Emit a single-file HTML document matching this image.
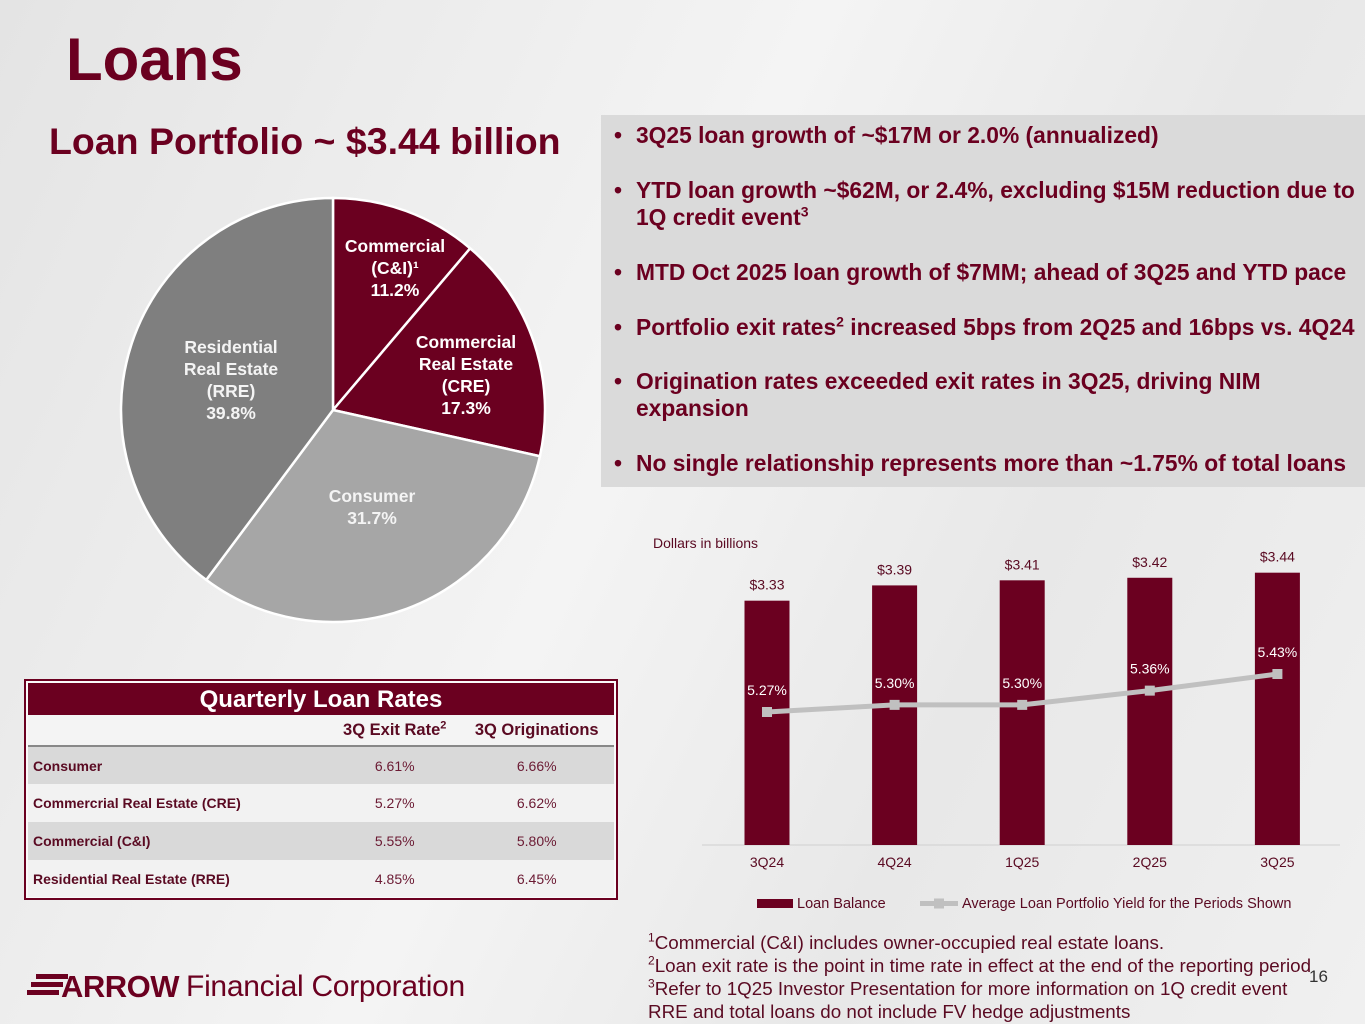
<!DOCTYPE html>
<html><head><meta charset="utf-8">
<style>
body{margin:0;width:1365px;height:1024px;overflow:hidden;font-family:"Liberation Sans",sans-serif;background:linear-gradient(115deg,#e4e4e4 0%,#f4f4f4 45%,#e8e8e8 70%,#f0f0f0 100%);position:relative}
.abs{position:absolute}
.m{color:#6b0020}
sup{line-height:0}
.bul{position:absolute;left:614px;font-weight:bold;font-size:22.8px;color:#6b0020;line-height:27px;width:745px}
.bul span.d{position:absolute;left:0}
.bul div{margin-left:22px}
table{border-collapse:collapse}
.fn{position:absolute;left:648px;font-size:18.8px;color:#5a0a22;white-space:nowrap}
</style></head><body>
<div class="abs m" style="left:66px;top:25px;font-size:60px;font-weight:bold;">Loans</div>
<div class="abs m" style="left:49px;top:120px;font-size:37.5px;font-weight:bold;">Loan Portfolio ~ $3.44 billion</div>

<div class="abs" style="left:601px;top:115px;width:764px;height:372px;background:#dadada"></div>
<div class="bul" style="top:122px"><span class="d">•</span><div>3Q25 loan growth of ~$17M or 2.0% (annualized)</div></div>
<div class="bul" style="top:177px"><span class="d">•</span><div>YTD loan growth ~$62M, or 2.4%, excluding $15M reduction due to 1Q credit event<sup style="font-size:14px">3</sup></div></div>
<div class="bul" style="top:259px"><span class="d">•</span><div>MTD Oct 2025 loan growth of $7MM; ahead of 3Q25 and YTD pace</div></div>
<div class="bul" style="top:314px"><span class="d">•</span><div>Portfolio exit rates<sup style="font-size:14px">2</sup> increased 5bps from 2Q25 and 16bps vs. 4Q24</div></div>
<div class="bul" style="top:368px"><span class="d">•</span><div>Origination rates exceeded exit rates in 3Q25, driving NIM expansion</div></div>
<div class="bul" style="top:450px"><span class="d">•</span><div>No single relationship represents more than ~1.75% of total loans</div></div>

<svg class="abs" style="left:0;top:0" width="1365" height="1024" id="svg"></svg>

<div class="abs" style="left:24px;top:679px;width:590px;height:217px;border:2px solid #6b0020;background:#fafafa">
<div style="height:32px;background:#6b0020;color:#fff;font-weight:bold;font-size:24px;text-align:center;line-height:34px;margin:2px 2px 0">Quarterly Loan Rates</div>
<table style="width:586px;margin-left:2px;font-size:14px">
<tr style="height:31px;background:#f4f4f4;border-bottom:2px solid #888;font-weight:bold;font-size:16.5px;color:#5a0a22"><td style="width:300px"></td><td style="text-align:center">3Q Exit Rate<sup style="font-size:11px">2</sup></td><td style="text-align:center">3Q Originations</td></tr>
<tr style="height:38px;background:#d9d9d9"><td style="font-weight:bold;color:#5a0a22;padding-left:5px">Consumer</td><td style="text-align:center;color:#6b1a33">6.61%</td><td style="text-align:center;color:#6b1a33">6.66%</td></tr>
<tr style="height:38px;background:#f2f2f2"><td style="font-weight:bold;color:#5a0a22;padding-left:5px">Commercrial Real Estate (CRE)</td><td style="text-align:center;color:#6b1a33">5.27%</td><td style="text-align:center;color:#6b1a33">6.62%</td></tr>
<tr style="height:38px;background:#d9d9d9"><td style="font-weight:bold;color:#5a0a22;padding-left:5px">Commercial (C&amp;I)</td><td style="text-align:center;color:#6b1a33">5.55%</td><td style="text-align:center;color:#6b1a33">5.80%</td></tr>
<tr style="height:37px;background:#f2f2f2"><td style="font-weight:bold;color:#5a0a22;padding-left:5px">Residential Real Estate (RRE)</td><td style="text-align:center;color:#6b1a33">4.85%</td><td style="text-align:center;color:#6b1a33">6.45%</td></tr>
</table></div>

<div class="fn" style="top:932px"><sup style="font-size:12px">1</sup>Commercial (C&amp;I) includes owner-occupied real estate loans.</div>
<div class="fn" style="top:955px"><sup style="font-size:12px">2</sup>Loan exit rate is the point in time rate in effect at the end of the reporting period</div>
<div class="fn" style="top:978px"><sup style="font-size:12px">3</sup>Refer to 1Q25 Investor Presentation for more information on 1Q credit event</div>
<div class="fn" style="top:1001px">RRE and total loans do not include FV hedge adjustments</div>
<div class="abs" style="left:1309px;top:967px;font-size:17px;color:#333">16</div>

<div class="abs" style="left:27px;top:969px;height:34px;white-space:nowrap">
<svg width="42" height="30" style="vertical-align:middle"><g fill="#6b0020"><rect x="9" y="2" width="32" height="5"/><rect x="4" y="10" width="32" height="5"/><rect x="0" y="18" width="32" height="5"/></g></svg><span style="font-weight:900;font-size:31px;color:#6b0020;vertical-align:middle;letter-spacing:-0.5px;margin-left:-8px">ARROW</span><span style="font-size:30px;color:#6b0020;vertical-align:middle;margin-left:7px;letter-spacing:-0.3px">Financial Corporation</span></div>

<script>
const NS='http://www.w3.org/2000/svg';
const svg=document.getElementById('svg');
function mk(t,a,p){const e=document.createElementNS(NS,t);for(const k in a)e.setAttribute(k,a[k]);(p||svg).appendChild(e);return e;}

// Pie data
const pieCats=['Commercial (C&I)','Commercial Real Estate (CRE)','Consumer','Residential Real Estate (RRE)'];
const pieVals=[11.2,17.3,31.7,39.8];
const pieColors=['#6b0020','#6b0020','#a6a6a6','#7f7f7f'];
const cx=333,cy=410,R=212;
let ang=-Math.PI/2;const tot=pieVals.reduce((a,b)=>a+b,0);
pieVals.forEach((v,i)=>{
  const a2=ang+v/tot*2*Math.PI;
  const x1=cx+R*Math.cos(ang),y1=cy+R*Math.sin(ang),x2=cx+R*Math.cos(a2),y2=cy+R*Math.sin(a2);
  const p=mk('path',{d:`M${cx},${cy}L${x1},${y1}A${R},${R} 0 ${a2-ang>Math.PI?1:0} 1 ${x2},${y2}Z`,fill:pieColors[i],stroke:'#fff','stroke-width':2.5});
  
  
  ang=a2;
});
const pieLabels=[[395,252,['Commercial','(C&I)¹',pieVals[0].toFixed(1)+'%']],[466,348,['Commercial','Real Estate','(CRE)',pieVals[1].toFixed(1)+'%']],[372,502,['Consumer',pieVals[2].toFixed(1)+'%']],[231,353,['Residential','Real Estate','(RRE)',pieVals[3].toFixed(1)+'%']]];
pieLabels.forEach((l,i)=>{
  const t=mk('text',{x:l[0],y:l[1],'text-anchor':'middle','font-size':17.5,'font-weight':'bold',fill:i<2?'#fff':'#f4f4f4'});
  
  
  l[2].forEach((s,j)=>{const ts=mk('tspan',{x:l[0],dy:j?22:0},t);ts.textContent=s;});
});

// Bar/line chart data
const quarters=['3Q24','4Q24','1Q25','2Q25','3Q25'];
const balances=[3.33,3.39,3.41,3.42,3.44];
const yields=[5.27,5.30,5.30,5.36,5.43];
const x0=767,dx=127.6,base=845;
const xS=i=>x0+i*dx;
const yB=v=>base-(v-2.37)*254.5;
const yL=v=>712-(v-5.27)*237.5;
const ax=mk('line',{x1:702,x2:1340,y1:base,y2:base,stroke:'#d0d0d0','stroke-width':1});


const t0=mk('text',{x:653,y:548,'font-size':14,fill:'#5a0a22'});t0.textContent='Dollars in billions';


balances.forEach((v,i)=>{
  const r=mk('rect',{x:xS(i)-22.5,y:yB(v),width:45,height:base-yB(v),fill:'#6b0020'});
  
  
  const t=mk('text',{x:xS(i),y:yB(v)-11,'text-anchor':'middle','font-size':14,fill:'#5a0a22'});t.textContent='$'+v.toFixed(2);
  
  
  const c=mk('text',{x:xS(i),y:867,'text-anchor':'middle','font-size':14,fill:'#5a0a22'});c.textContent=quarters[i];
  
  
});
const pl=mk('polyline',{points:yields.map((v,i)=>xS(i)+','+yL(v)).join(' '),fill:'none',stroke:'#c0c0c0','stroke-width':5});


yields.forEach((v,i)=>{
  const m=mk('rect',{x:xS(i)-5,y:yL(v)-5,width:10,height:10,fill:'#c0c0c0'});
  
  
  const t=mk('text',{x:xS(i),y:yL(v)-17,'text-anchor':'middle','font-size':14,fill:'#ffffff'});t.textContent=v.toFixed(2)+'%';
  
  
});
// legend
const lg=mk('g',{});


mk('rect',{x:757,y:899,width:36,height:9,fill:'#6b0020'},lg);
const l1=mk('text',{x:797,y:908,'font-size':14.5,fill:'#5a0a22'},lg);l1.textContent='Loan Balance';
mk('line',{x1:920,x2:958,y1:903.5,y2:903.5,stroke:'#c0c0c0','stroke-width':5},lg);
mk('rect',{x:934,y:898.5,width:10,height:10,fill:'#c0c0c0'},lg);
const l2=mk('text',{x:962,y:908,'font-size':14.5,fill:'#5a0a22'},lg);l2.textContent='Average Loan Portfolio Yield  for the Periods Shown';
</script>
</body></html>
